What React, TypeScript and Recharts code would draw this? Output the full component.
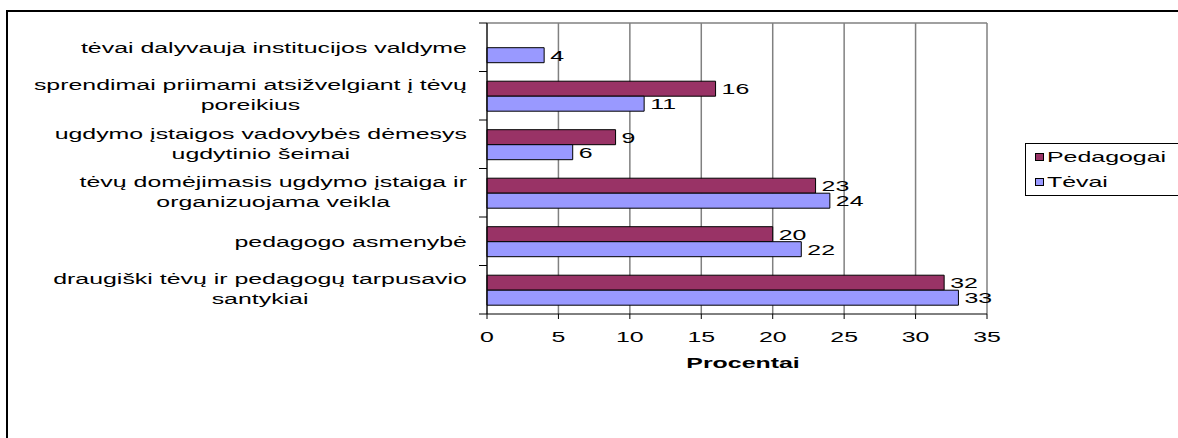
import { Bar, BarChart, CartesianGrid, LabelList, Legend, XAxis, YAxis } from "recharts";

const categories = [
  "tėvai dalyvauja institucijos valdyme",
  "sprendimai priimami atsižvelgiant į tėvų\nporeikius",
  "ugdymo įstaigos vadovybės dėmesys\nugdytinio šeimai",
  "tėvų domėjimasis ugdymo įstaiga ir\norganizuojama veikla",
  "pedagogo asmenybė",
  "draugiški tėvų ir pedagogų tarpusavio\nsantykiai",
];
const pedagogai = [null, 16, 9, 23, 20, 32];
const tevai = [4, 11, 6, 24, 22, 33];
const xTicks = [0, 5, 10, 15, 20, 25, 30, 35];

const data = categories.map((c, i) => ({ cat: c, Pedagogai: pedagogai[i], Tevai: tevai[i] }));

const FONT = '"Liberation Sans", Arial, sans-serif';
const SX = 1.66; // the original text is stretched sideways
const PLOT_TOP = 23;
const PLOT_BOTTOM = 314;
const AXIS_X = 487;
const LABEL_RIGHT = 467;

let ctx: CanvasRenderingContext2D | null = null;
function textWidth(s: string, bold = false) {
  if (!ctx) ctx = document.createElement("canvas").getContext("2d");
  if (!ctx) return s.length * 7;
  ctx.font = `${bold ? "bold " : ""}15px "Liberation Sans"`;
  return ctx.measureText(s).width;
}

function Stretched({ x, y, anchor, children, bold }: any) {
  return (
    <text
      transform={`translate(${x},${y}) scale(${SX},1)`}
      textAnchor={anchor}
      dominantBaseline="central"
      fontFamily={FONT}
      fontSize={15}
      fontWeight={bold ? "bold" : "normal"}
      fill="#000"
    >
      {children}
    </text>
  );
}

function CategoryTick(props: any) {
  const { y, payload, index } = props;
  const band = (PLOT_BOTTOM - PLOT_TOP) / categories.length;
  const lines: string[] = String(payload.value).split("\n");
  const maxW = Math.max(...lines.map((l) => textWidth(l))) * SX;
  const cx = LABEL_RIGHT - maxW / 2;
  const offsets = lines.length > 1 ? [-11, 9] : [0];
  return (
    <g>
      <line x1={AXIS_X - 8} x2={AXIS_X} y1={y - band / 2} y2={y - band / 2} stroke="#000" />
      {index === categories.length - 1 && (
        <line x1={AXIS_X - 8} x2={AXIS_X} y1={y + band / 2} y2={y + band / 2} stroke="#000" />
      )}
      {lines.map((l, i) => (
        <Stretched key={i} x={cx} y={y + offsets[i]} anchor="middle">
          {l}
        </Stretched>
      ))}
    </g>
  );
}

function ValueTick(props: any) {
  const { x, payload } = props;
  return (
    <Stretched x={x} y={337} anchor="middle">
      {payload.value}
    </Stretched>
  );
}

function BarValue(props: any) {
  const { x, y, width, height, value } = props;
  if (value == null) return null;
  return (
    <Stretched x={Number(x) + Number(width) + 6} y={Number(y) + Number(height) / 2} anchor="start">
      {value}
    </Stretched>
  );
}

function AxisTitle(props: any) {
  const vb = props.viewBox || {};
  return (
    <Stretched x={vb.x + vb.width / 2 + 6} y={363} anchor="middle" bold>
      Procentai
    </Stretched>
  );
}

const legendItems = [
  { name: "Pedagogai", color: "#993366" },
  { name: "Tėvai", color: "#9999FF" },
];

function LegendBox() {
  return (
    <div style={{ position: "relative", width: 170, height: 51, borderLeft: "1px solid #000", borderTop: "1px solid #000", borderBottom: "1px solid #000" }}>
      {legendItems.map((it, i) => (
        <div key={it.name} style={{ position: "absolute", left: 0, top: 13 + i * 25 - 10, height: 20, width: 170 }}>
          <div style={{ position: "absolute", left: 9, top: 6, width: 7, height: 6, background: it.color, border: "1px solid #000" }} />
          <span
            style={{
              position: "absolute",
              left: 21,
              top: 0,
              lineHeight: "20px",
              fontFamily: FONT,
              fontSize: 15,
              color: "#000",
              whiteSpace: "nowrap",
              transform: `scaleX(${SX})`,
              transformOrigin: "left center",
            }}
          >
            {it.name}
          </span>
        </div>
      ))}
    </div>
  );
}

export default function App() {
  return (
    <div style={{ position: "absolute", left: 0, top: 0, width: 1178, height: 438, overflow: "hidden", background: "#fff" }}>
      <div style={{ position: "absolute", left: 6, top: 10, width: 1172, height: 2, background: "#000" }} />
      <div style={{ position: "absolute", left: 6, top: 10, width: 2, height: 428, background: "#000" }} />
      <div style={{ position: "absolute", left: 0, top: 0 }}>
        <BarChart
          width={1178}
          height={438}
          data={data}
          layout="vertical"
          margin={{ top: PLOT_TOP, right: 191, bottom: 64, left: 7 }}
          barCategoryGap="20%"
          barGap={0}
          accessibilityLayer={false}
          style={{ outline: "none" }}
        >
          <CartesianGrid stroke="#808080" strokeWidth={1.5} horizontalPoints={[PLOT_TOP]} />
          <XAxis
            type="number"
            domain={[0, 35]}
            ticks={xTicks}
            interval={0}
            height={60}
            stroke="#000"
            tickSize={5}
            tick={<ValueTick />}
            label={<AxisTitle />}
          />
          <YAxis
            type="category"
            dataKey="cat"
            width={480}
            stroke="#000"
            tickLine={false}
            interval={0}
            tick={<CategoryTick />}
          />
          <Legend
            layout="horizontal"
            verticalAlign="middle"
            align="center"
            wrapperStyle={{ left: 1025, top: 143, width: 170 }}
            content={() => <LegendBox />}
          />
          <Bar dataKey="Pedagogai" fill="#993366" stroke="#000" strokeWidth={1} isAnimationActive={false}>
            <LabelList dataKey="Pedagogai" content={<BarValue />} />
          </Bar>
          <Bar dataKey="Tevai" name="Tėvai" fill="#9999FF" stroke="#000" strokeWidth={1} isAnimationActive={false}>
            <LabelList dataKey="Tevai" content={<BarValue />} />
          </Bar>
        </BarChart>
      </div>
    </div>
  );
}
